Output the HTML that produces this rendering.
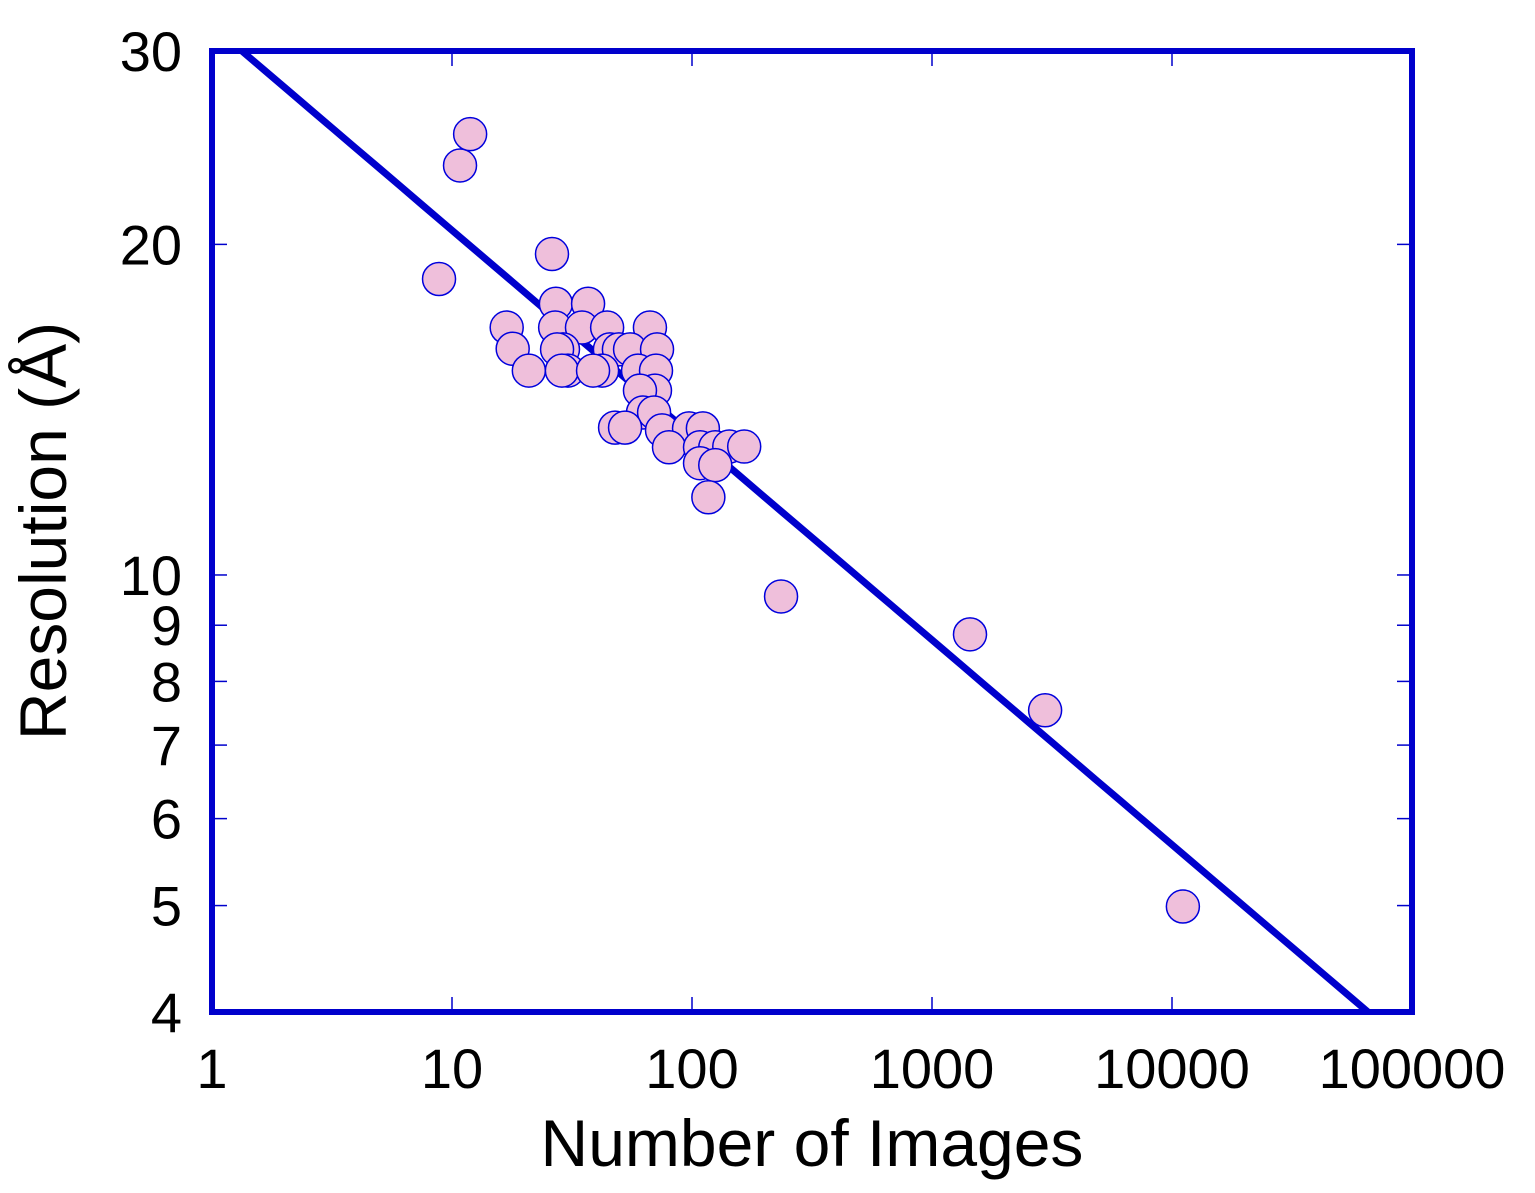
<!DOCTYPE html>
<html><head><meta charset="utf-8"><style>
html,body{margin:0;padding:0;background:#fff;}
svg{display:block;font-family:"Liberation Sans",sans-serif;}
</style></head><body>
<svg id="chart" width="1535" height="1193" viewBox="0 0 1535 1193" xmlns="http://www.w3.org/2000/svg">
<g id="ticks"></g>
<path id="fit" fill="none" stroke="#0000cc" stroke-width="7"/>
<g id="pts"></g>
<rect x="212" y="51" width="1200" height="961" fill="none" stroke="#0000cc" stroke-width="6"/>
<g id="labels" font-size="56" fill="#000"></g>
<text x="812" y="1166" font-size="66" text-anchor="middle">Number of Images</text>
<text transform="translate(66,531) rotate(-90)" font-size="66" text-anchor="middle">Resolution (Å)</text>
</svg>
<script>
const xTicks=[1,10,100,1000,10000,100000];
const xTickLabels=["1","10","100","1000","10000","100000"];
const yTicks=[4,5,6,7,8,9,10,20,30];
const yTickLabels=["4","5","6","7","8","9","10","20","30"];
const images=[26.1,27.1,36.9,16.9,26.9,34.8,44.3,66.8,17.9,29.0,27.4,45.5,49.6,55.2,71.5,20.9,30.4,28.7,42.2,38.7,59.6,70.8,70.1,60.7,62.5,69.5,47.8,52.6,75.0,97.2,111,80.2,108,125,143,165,108,125,117,8.83,10.8,11.9,235,1440,2960,11100];
const resolution=[19.6,17.66,17.66,16.8,16.8,16.8,16.8,16.8,16.07,16.05,16.05,16.05,16.05,16.05,16.05,15.35,15.35,15.35,15.35,15.35,15.35,15.35,14.72,14.72,14.06,14.06,13.62,13.62,13.54,13.6,13.6,13.07,13.07,13.07,13.09,13.09,12.64,12.59,11.77,18.6,23.6,25.2,9.56,8.83,7.53,4.99];
const fitA=31.65, fitB=-0.1865;
const X0=212,X1=1412,Y0=51,Y1=1012;
const sx=v=>X0+(Math.log10(v)-0)/5*(X1-X0);
const sy=v=>Y1-(Math.log10(v)-Math.log10(4))/(Math.log10(30)-Math.log10(4))*(Y1-Y0);
const NS="http://www.w3.org/2000/svg";
const tk=document.getElementById('ticks'),lb=document.getElementById('labels'),pg=document.getElementById('pts');
function mk(tag,attrs,parent){const e=document.createElementNS(NS,tag);for(const k in attrs)e.setAttribute(k,attrs[k]);parent.appendChild(e);return e;}
xTicks.forEach((v,i)=>{const x=sx(v);
 const t1=mk('line',{x1:x,x2:x,y1:Y1,y2:Y1-15,stroke:'#0000cc','stroke-width':1.5},tk);
 
 
 const t2=mk('line',{x1:x,x2:x,y1:Y0,y2:Y0+15,stroke:'#0000cc','stroke-width':1.5},tk);
 
 
 const t=mk('text',{x:x,y:1088,'text-anchor':'middle'},lb);t.textContent=xTickLabels[i];
 
 
});
yTicks.forEach((v,i)=>{const y=sy(v);
 const t1=mk('line',{x1:X0,x2:X0+15,y1:y,y2:y,stroke:'#0000cc','stroke-width':1.5},tk);
 
 
 const t2=mk('line',{x1:X1,x2:X1-15,y1:y,y2:y,stroke:'#0000cc','stroke-width':1.5},tk);
 
 
 const t=mk('text',{x:182,y:y+20,'text-anchor':'end'},lb);t.textContent=yTickLabels[i];
 
 
});
const xStart=Math.pow(30/fitA,1/fitB), xEnd=Math.min(1e5,Math.pow(4/fitA,1/fitB));
let d='';for(let i=0;i<=50;i++){const lx=Math.log10(xStart)+(Math.log10(xEnd)-Math.log10(xStart))*i/50;const xv=Math.pow(10,lx);d+=(i?'L':'M')+sx(xv).toFixed(1)+','+sy(fitA*Math.pow(xv,fitB)).toFixed(1);}
document.getElementById('fit').setAttribute('d',d);
images.forEach((v,i)=>{
 const c=mk('circle',{cx:sx(v),cy:sy(resolution[i]),r:16.5,fill:'#efbfdb',stroke:'#0000dd','stroke-width':1.5},pg);
 
 
});
</script>
</body></html>
